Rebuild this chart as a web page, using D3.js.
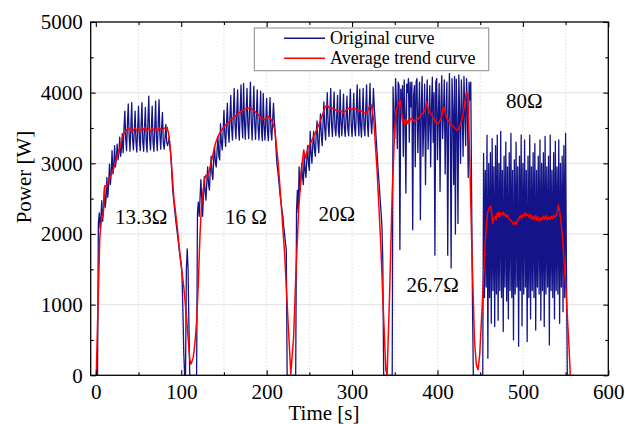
<!DOCTYPE html>
<html><head><meta charset="utf-8">
<script src="https://cdn.jsdelivr.net/npm/d3@7"></script>
<style>body{margin:0;background:#fff}svg{display:block}</style>
</head><body>
<svg id="chart" width="625" height="424"></svg>
<script>
// ---------- data ----------
const xTicks = [0, 100, 200, 300, 400, 500, 600];
const xMinorTicks = [50, 150, 250, 350, 450, 550];
const yTicks = [0, 1000, 2000, 3000, 4000, 5000];
const yMinorTicks = [500, 1500, 2500, 3500, 4500];
const seriesNames = ["Original curve", "Average trend curve"];
const loadLabels = ["13.3Ω", "16 Ω", "20Ω", "26.7Ω", "80Ω"];

// original curve, sampled every 1 s from t = 0 s to t = 560 s
const blueStep = 1;
const bluePower = [
  0,0,0,2150,2300,2080,2250,2470,2180,2350,
  2660,2380,2500,2800,2520,2700,2990,2700,2850,3180,
  2850,2950,3250,2950,3050,3270,3050,3150,3370,3100,
  3200,3420,3150,3500,3740,3350,3180,3550,3840,3400,
  3170,3500,3860,3350,3190,3450,3740,3300,3160,3500,
  3810,3350,3180,3550,3860,3300,3170,3500,3790,3300,
  3160,3600,3950,3350,3190,3500,3810,3300,3170,3500,
  3880,3350,3180,3550,3900,3400,3200,3500,3720,3300,
  3200,3350,3550,3300,3250,3300,3370,3200,3100,2850,
  2620,2500,2380,2260,2150,2050,1950,1850,1740,1650,
  1580,1400,900,300,0,0,1500,1790,1500,700,
  0,0,0,0,0,0,0,0,0,2300,
  2450,2250,2500,2770,2500,2250,2550,2810,2600,2480,
  2750,2950,2700,2620,2900,3100,2850,2770,3050,3240,
  3000,2950,3200,3380,3100,3050,3560,3300,3190,3450,
  3750,3400,3240,3550,3850,3450,3300,3650,3960,3500,
  3330,3700,4060,3550,3350,3700,4040,3500,3330,3750,
  4110,3550,3360,4130,3600,3340,3700,4060,3550,3350,
  3750,4150,3600,3330,3700,4090,3550,3340,3700,4040,
  3500,3330,3650,4020,3450,3320,3990,3550,3330,3600,
  3920,3450,3320,3650,3930,3450,3330,3600,3850,3600,
  3450,3200,3000,2900,2780,2650,2520,2430,2330,2250,
  2100,2000,1880,1775,0,0,0,0,0,0,
  0,0,0,0,0,2340,2620,2300,2950,2600,
  2750,3000,2800,2700,3150,2900,2800,3050,3250,3000,
  2900,3450,3150,3000,3250,3450,3200,3100,3400,3600,
  3300,3150,3450,3700,3400,3250,3550,3870,3500,3330,
  3650,4000,3550,3380,3700,4060,3550,3380,3700,4010,
  3500,3390,3650,3960,3450,3370,4040,3600,3390,3650,
  3980,3500,3380,3650,3950,3500,3390,3700,4050,3550,
  3380,3650,3990,3500,3390,3750,4110,3600,3390,4050,
  3550,3370,3700,4060,3500,3390,3750,4110,3550,3380,
  3750,4130,3600,3420,3700,4060,3800,3610,3400,3200,
  3000,2820,2650,2480,2300,2100,1600,0,0,0,
  0,0,0,0,0,0,0,0,4080,3600,
  3350,4200,3800,3210,4150,4100,1780,4050,3700,4100,
  3100,4180,3700,2580,4120,4000,4200,3300,4150,3800,
  4150,2060,3950,4100,2950,4150,4200,3150,3700,4150,
  2200,3800,4230,3100,3600,4120,2700,3750,4180,3200,
  3600,4100,2950,3800,4220,3300,4000,1700,4150,4200,
  3050,3700,4130,2600,3800,4240,3350,3700,4180,2850,
  3700,4150,1700,3600,4270,3500,1520,4200,3800,2700,
  4230,2000,4190,3600,2150,4250,3700,3000,4180,3750,
  3100,4230,3700,3250,4200,3800,2800,4150,3900,4150,
  2500,1000,0,0,0,0,0,0,0,0,
  0,0,0,0,3140,1100,2900,1250,3400,240,
  3000,1100,3150,735,3350,1200,2950,690,3250,1150,
  3400,780,3000,1200,3450,1100,2900,620,3100,1250,
  3300,1050,2950,800,3150,1200,3425,1100,2900,500,
  3050,1150,3300,1250,2950,410,3100,1200,3400,700,
  3000,1150,3330,1250,2900,477,3100,1100,3400,800,
  2950,1200,3150,1100,3280,640,2900,1250,3100,1150,
  3330,780,3000,1200,3150,690,3380,1150,2950,1250,
  3100,430,3400,1200,2900,1100,3150,800,3310,1200,
  2950,1150,3330,735,3000,1250,3100,900,3250,1100,
  3425,1500,0,0,0,0,0,0,0,0,
  0
];

// average trend curve: [time s, power W]
const redTrend = [
  [0.5,0],[2.7,1060],[4.7,1960],[6.5,2200],[8.7,2285],[10.6,2685],[12.6,2660],[14.5,2740],
  [16.5,2800],[20.5,2920],[24.4,3080],[28.3,3225],[32.3,3410],[36.2,3470],[38,3500],[40.2,3480],
  [42,3440],[44,3470],[46,3500],[48,3460],[50,3490],[52,3450],[54,3500],[56,3480],[58,3510],
  [60,3460],[62,3490],[64,3450],[66,3500],[68,3470],[70,3490],[72,3460],[74,3500],[76,3480],
  [78,3470],[80,3500],[82,3490],[83.5,3510],[85.5,3400],[87.4,3180],[91.3,2520],[95.3,2100],
  [99,1650],[103,1250],[107,700],[110,220],[111.5,160],[114,250],[116,450],[118,750],[120,1300],
  [122,2000],[123.5,2350],[125.5,2600],[127.5,2780],[129,2835],[130.5,2800],[133,2900],[136.5,3090],
  [140,3280],[143,3380],[146,3450],[150,3520],[154,3565],[158,3610],[162,3660],[165,3680],[167,3710],
  [170,3730],[173,3755],[176,3770],[179,3780],[181,3790],[183,3765],[186.5,3730],[190,3690],
  [194,3635],[198,3620],[200,3640],[202,3660],[204,3640],[205.8,3610],[207.5,3560],[209.6,3470],
  [213.5,3000],[217,2430],[221,1730],[225,780],[228.3,20],[231.6,550],[234.4,1490],[237.5,2340],
  [240.6,2900],[243.4,3190],[245.3,3070],[247,3150],[249,3240],[252,3300],[255,3380],[258,3460],
  [261,3540],[264,3640],[266.8,3730],[268.5,3800],[270.7,3825],[273,3790],[276.6,3780],[280,3760],
  [284.4,3730],[287,3740],[290,3715],[293,3750],[296,3780],[299,3760],[302,3780],[305,3770],
  [307.8,3755],[311,3740],[313,3720],[315.6,3710],[318,3740],[320.3,3800],[322.7,3825],[325.4,3610],
  [329.3,2900],[333.2,1960],[337.1,780],[339.5,80],[341,0],[344,1170],[347,2580],[350,3515],
  [352,3750],[354,3845],[356.7,3890],[359,3590],[360.5,3620],[361.8,3540],[363,3620],[364.5,3560],
  [365.7,3610],[367,3570],[368,3620],[370,3640],[372,3600],[373.6,3590],[375.5,3620],[377.6,3630],
  [379.5,3660],[381.5,3700],[383.5,3720],[385.4,3750],[387.4,3870],[389,3760],[390.5,3730],
  [393.3,3680],[395,3650],[397.2,3590],[399,3575],[401,3560],[403,3610],[405,3660],[407,3800],
  [409,3730],[411,3630],[413,3600],[415,3560],[417,3540],[419,3515],[421,3490],[422.8,3470],
  [424.5,3490],[426.8,3540],[429,3640],[430.7,3750],[432.5,3900],[433.9,4000],[435.4,3985],
  [437.8,3045],[440.6,1640],[443.3,500],[445.5,150],[447.5,80],[449.5,300],[452,900],[453,1150],
  [455.8,1870],[458.5,2290],[460.5,2370],[462.5,2390],[463.5,2300],[464.7,2150],[466,2230],
  [467.4,2245],[468.5,2200],[469.5,2290],[470.5,2250],[471.5,2310],[472.5,2240],[473.5,2300],
  [475,2270],[476.5,2310],[478,2260],[479,2290],[480.5,2240],[482,2270],[483.5,2220],[485,2200],
  [486.5,2180],[488,2160],[489.5,2130],[491,2170],[492.5,2140],[494,2200],[495.5,2230],[497,2260],
  [498.5,2220],[500,2280],[501.5,2250],[503,2300],[504.5,2260],[506,2280],[507.5,2230],[509,2270],
  [510.5,2210],[512,2250],[513.5,2200],[515,2260],[516.5,2190],[518,2240],[519.5,2180],[521,2230],
  [522.5,2200],[524,2250],[525.5,2210],[527,2260],[528.5,2200],[530,2240],[531.5,2210],[533,2250],
  [534.5,2220],[536,2260],[537.5,2230],[539,2270],[540.5,2330],[541.6,2410],[543,2330],[544.3,2200],
  [546.3,1960],[548,1650],[550.2,1250],[552,850],[554,400],[555.5,0]
];

// ---------- drawing ----------
const svg = d3.select("#chart");
const FONT = "'Liberation Serif','Times New Roman',serif";
const L = 90.7, R = 608.3, T = 22, B = 375.3;

const x = d3.scaleLinear().domain([-6, 600]).range([L, R]);
const y = d3.scaleLinear().domain([0, 5000]).range([B, T]);

svg.append("rect").attr("width", 625).attr("height", 424).attr("fill", "#fff");

// grid
const grid = svg.append("g");
grid.selectAll("line.h").data(yTicks.filter(v => v > 0 && v < 5000)).join("line")
  .attr("x1", L).attr("x2", R).attr("y1", d => y(d)).attr("y2", d => y(d))
  .attr("stroke", "#e4e4e4").attr("stroke-width", 1);
grid.selectAll("line.v").data(d3.sort(xTicks.concat(xMinorTicks)).filter(v => v > 0 && v < 600)).join("line")
  .attr("y1", T).attr("y2", B).attr("x1", d => x(d)).attr("x2", d => x(d))
  .attr("stroke", "#d4d4d4").attr("stroke-width", 0.8).attr("stroke-dasharray", "1.5,2");

// clip
svg.append("clipPath").attr("id", "clip").append("rect")
  .attr("x", L).attr("y", T).attr("width", R - L).attr("height", B - T);

const plot = svg.append("g").attr("clip-path", "url(#clip)");
const blueData = bluePower.map((v, i) => [i * blueStep, v]);
const line = d3.line().x(d => x(d[0])).y(d => y(d[1]));

plot.append("path").datum(blueData).attr("d", line)
  .attr("fill", "none").attr("stroke", "#141488").attr("stroke-width", 1.3)
  .attr("stroke-linejoin", "round");
plot.append("path").datum(redTrend).attr("d", line)
  .attr("fill", "none").attr("stroke", "#ff0000").attr("stroke-width", 1.5)
  .attr("stroke-linejoin", "round");

// axes (inward ticks)
function styleAxis(g) {
  g.select(".domain").remove();
  g.selectAll("line").attr("stroke", "#000").attr("stroke-width", 1.1);
  g.selectAll("text").attr("font-family", FONT).attr("font-size", 21).attr("fill", "#000");
}
const fmt = d3.format("d");
svg.append("g").attr("transform", `translate(0,${B})`)
  .call(d3.axisBottom(x).tickValues(xTicks).tickFormat(fmt).tickSize(-5).tickPadding(9)).call(styleAxis);
svg.append("g").attr("transform", `translate(0,${B})`)
  .call(d3.axisBottom(x).tickValues(xMinorTicks).tickSize(-3).tickFormat("")).call(styleAxis);
svg.append("g").attr("transform", `translate(0,${T})`)
  .call(d3.axisTop(x).tickValues(xTicks).tickSize(-5).tickFormat("")).call(styleAxis);
svg.append("g").attr("transform", `translate(0,${T})`)
  .call(d3.axisTop(x).tickValues(xMinorTicks).tickSize(-3).tickFormat("")).call(styleAxis);
svg.append("g").attr("transform", `translate(${L},0)`)
  .call(d3.axisLeft(y).tickValues(yTicks).tickFormat(fmt).tickSize(-5).tickPadding(8)).call(styleAxis);
svg.append("g").attr("transform", `translate(${L},0)`)
  .call(d3.axisLeft(y).tickValues(yMinorTicks).tickSize(-3).tickFormat("")).call(styleAxis);
svg.append("g").attr("transform", `translate(${R},0)`)
  .call(d3.axisRight(y).tickValues(yTicks).tickSize(-5).tickFormat("")).call(styleAxis);
svg.append("g").attr("transform", `translate(${R},0)`)
  .call(d3.axisRight(y).tickValues(yMinorTicks).tickSize(-3).tickFormat("")).call(styleAxis);

// frame
svg.append("rect").attr("x", L).attr("y", T).attr("width", R - L).attr("height", B - T)
  .attr("fill", "none").attr("stroke", "#000").attr("stroke-width", 1.3);

// axis titles
svg.append("text").attr("x", 324).attr("y", 420).attr("text-anchor", "middle")
  .attr("font-family", FONT).attr("font-size", 21).text("Time [s]");
svg.append("text").attr("transform", "translate(31,177) rotate(-90)").attr("text-anchor", "middle")
  .attr("font-family", FONT).attr("font-size", 21).text("Power [W]");

// load annotations
const annPos = [[115, 223.5], [225, 223.5], [318.5, 220.5], [406.5, 291.5], [506, 108]];
svg.selectAll("text.ann").data(loadLabels).join("text")
  .attr("x", (d, i) => annPos[i][0]).attr("y", (d, i) => annPos[i][1])
  .attr("font-family", FONT).attr("font-size", 21).attr("fill", "#000").text(d => d);

// legend
const lg = svg.append("g");
lg.append("rect").attr("x", 254.3).attr("y", 28).attr("width", 234.4).attr("height", 42.7)
  .attr("fill", "#fff").attr("stroke", "#8c8c8c").attr("stroke-width", 1);
const legColors = ["#141488", "#ff0000"];
seriesNames.forEach((name, i) => {
  const yy = 38.3 + i * 20;
  lg.append("line").attr("x1", 284).attr("x2", 325).attr("y1", yy).attr("y2", yy)
    .attr("stroke", legColors[i]).attr("stroke-width", 1.5);
  lg.append("text").attr("x", 330).attr("y", yy + 5.6)
    .attr("font-family", FONT).attr("font-size", 18).attr("fill", "#000").text(name);
});
</script>
</body></html>
